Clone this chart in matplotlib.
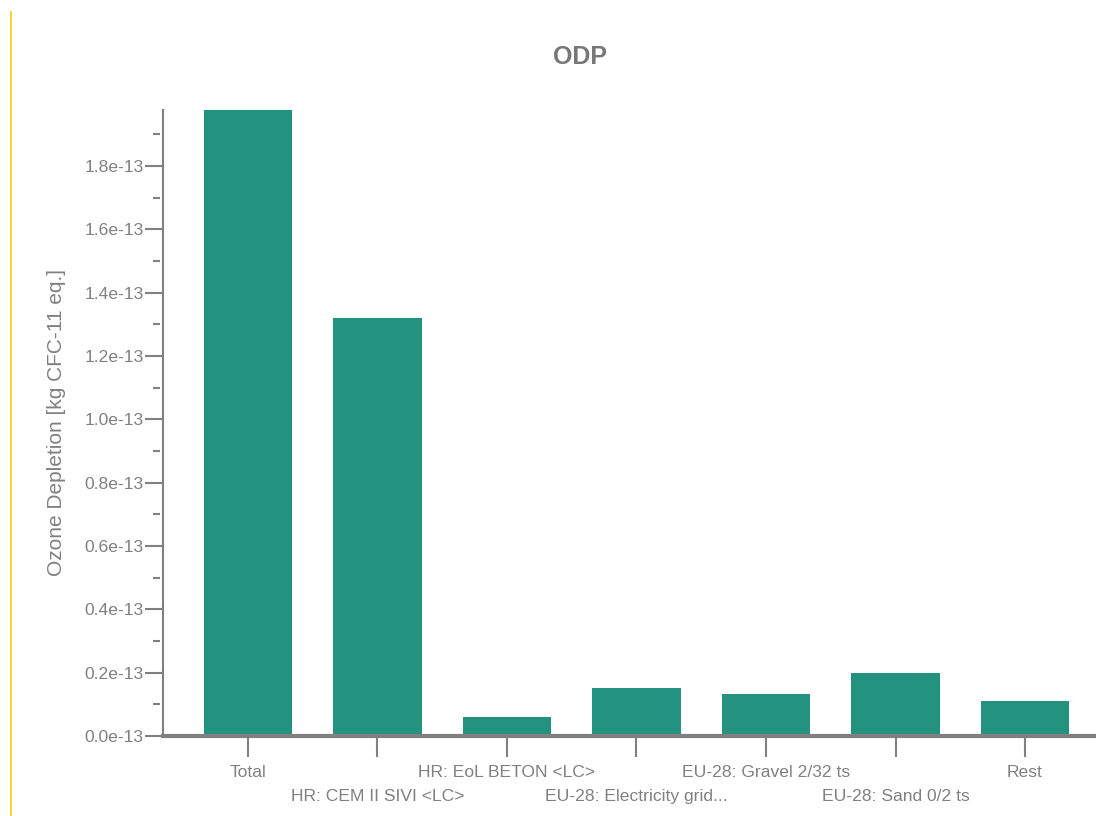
import matplotlib.pyplot as plt
import matplotlib.transforms as mtransforms
from matplotlib.ticker import MultipleLocator, FuncFormatter
from matplotlib.lines import Line2D

plt.rcParams['font.family'] = ['Liberation Sans', 'DejaVu Sans']

categories = ["Total", "HR: CEM II SIVI <LC>", "HR: EoL BETON <LC>",
              "EU-28: Electricity grid...", "EU-28: Gravel 2/32 ts",
              "EU-28: Sand 0/2 ts", "Rest"]
values = [1.977e-13, 1.32e-13, 0.06e-13, 0.152e-13, 0.133e-13, 0.199e-13, 0.11e-13]

bar_color = "#23937f"
grey = "#808080"

fig = plt.figure(figsize=(10.96, 8.16), dpi=100)
ax = fig.add_axes([163 / 1096, 1 - 736 / 816, 1 - 163 / 1096, (736 - 110) / 816])

x = list(range(len(categories)))
ax.bar(x, values, width=0.68, color=bar_color, zorder=2)

ax.set_xlim(-0.656, 6.548)
ax.set_ylim(0, values[0])

for s in ["top", "right"]:
    ax.spines[s].set_visible(False)
ax.spines["left"].set_color(grey)
ax.spines["left"].set_linewidth(1.5)
ax.spines["bottom"].set_color(grey)
ax.spines["bottom"].set_linewidth(3)
ax.spines["bottom"].set_zorder(3)

ax.yaxis.set_major_locator(MultipleLocator(0.2e-13))
ax.yaxis.set_major_formatter(FuncFormatter(lambda v, p: f"{v / 1e-13:.1f}e-13"))
ax.tick_params(axis="y", which="major", length=13, width=1.5, color=grey,
               labelcolor=grey, labelsize=12.6, pad=1)

# minor ticks, drawn detached from the spine
ylim_top = values[0]
minor_locs = [m * 0.2e-13 + 0.1e-13 for m in range(10) if m * 0.2e-13 + 0.1e-13 <= ylim_top]
ytrans = ax.get_yaxis_transform()
for m in minor_locs:
    ax.plot([-10 / 933, -3 / 933], [m, m], transform=ytrans, color=grey,
            linewidth=1.5, clip_on=False, solid_capstyle="butt")

ax.set_xticks(x)
ax.set_xticklabels(categories)
ax.tick_params(axis="x", length=15, width=1.5, color=grey, labelcolor=grey,
               labelsize=12.6, pad=6)
shift = mtransforms.ScaledTranslation(0, -24 / 100, fig.dpi_scale_trans)
for i, lbl in enumerate(ax.get_xticklabels()):
    if i % 2 == 1:
        lbl.set_transform(lbl.get_transform() + shift)

ax.set_ylabel("Ozone Depletion [kg CFC-11 eq.]", color=grey, fontsize=15, labelpad=13)
fig.text(580 / 1096, 1 - 57 / 816, "ODP", ha="center", va="center",
         fontsize=18, fontweight="bold", color="#777777")

fig.add_artist(Line2D([11 / 1096, 11 / 1096], [0, 1 - 12 / 816],
                      color="#f5d000", linewidth=1.2))

fig.savefig("out.png", dpi=100)
